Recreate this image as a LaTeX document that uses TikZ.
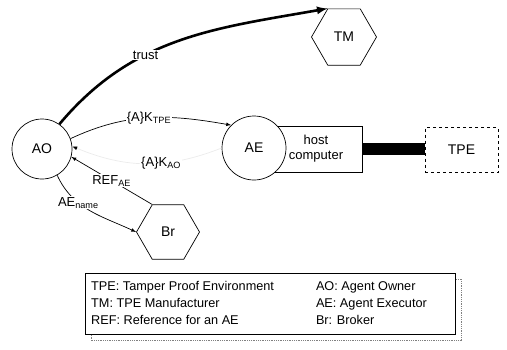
\documentclass[tikz,border=0pt]{standalone}
\usepackage{fontspec}
\setmainfont{Liberation Sans}
\usetikzlibrary{calc,positioning,arrows,arrows.meta,shapes,fit,backgrounds}

\begin{document}
\begin{tikzpicture}[x=1pt, y=-1pt, font=\fontsize{13}{15}\selectfont,
 ent/.style={draw, circle, fill=white, line width=.7pt, inner sep=0pt, font=\fontsize{14}{16}\selectfont},
 hexa/.style={draw, regular polygon, regular polygon sides=6, fill=white, line width=.7pt, inner sep=0pt, font=\fontsize{14}{16}\selectfont},
 box/.style={draw, rectangle, line width=.7pt},
 msg/.style={->, >=latex, line width=.7pt},
 lbl/.style={inner sep=1pt, fill=white}]
\useasboundingbox (0,0) rectangle (507,349);
% parties
\node[box, minimum width=92pt, minimum height=46pt, align=center] (host) at (316,149) {host\\computer};
\node[ent, minimum size=64pt] (AE) at (254,148) {AE};
\node[box, dashed, minimum width=73pt, minimum height=45pt, font=\fontsize{14}{16}\selectfont] (TPE) at (461.5,150) {TPE};
\draw[line width=12pt] (host.east) -- (host.east -| TPE.west);
\node[ent, minimum size=60pt] (AO) at (42,149) {AO};
\node[hexa, minimum size=65pt] (TM) at (344,37) {TM};
\node[hexa, minimum size=63pt] (Br) at (168,232) {Br};
% messages
\draw[msg, line width=2.6pt] (AO.55) to[out=50, in=190] node[lbl, pos=.37] {trust} (TM.120);
\draw[msg] (AO.20) to[out=25, in=170] node[lbl, pos=.5] {\{A\}K\textsubscript{TPE}} (AE.135);
\draw[line width=.7pt, draw=black!8, -{Latex[black, length=5pt, width=4pt]}] (AE.west) to[bend left=22] node[lbl, pos=.4] {\{A\}K\textsubscript{AO}} (AO.5);
\draw[msg] (Br.120) -- node[lbl, pos=.5] {REF\textsubscript{AE}} (AO.-15);
\draw[msg] (AO.-60) to[out=-65, in=155] node[lbl, pos=.35] {AE\textsubscript{name}} (Br.180);
% legend
\node[box, fill=white, minimum width=370pt, minimum height=61pt, anchor=north west] (legend) at (85,273) {};
\begin{scope}[on background layer]
\draw[gray, densely dotted, line width=.8pt] ($(legend.north west)+(6,6)$) rectangle ($(legend.south east)+(6,6)$);
\end{scope}
\node[anchor=west, inner sep=0pt, font=\fontsize{12.7}{17}\selectfont] (legtxt) at (91,304) {%
\begin{tabular}{@{}l@{\hspace{42pt}}l@{}}
TPE: Tamper Proof Environment & AO: Agent Owner\\
TM: TPE Manufacturer & AE: Agent Executor\\
REF: Reference for an AE & Br: Broker
\end{tabular}};
\end{tikzpicture}
\end{document}
